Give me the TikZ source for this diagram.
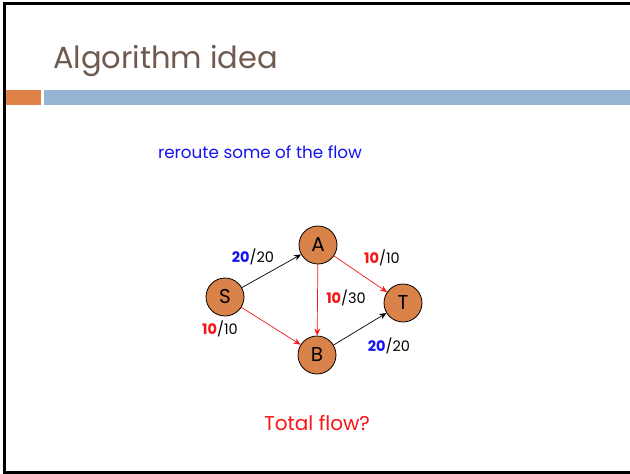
\documentclass[tikz,border=0pt]{standalone}
\usepackage{fontspec}
\setmainfont{Poppins}
\usetikzlibrary{arrows.meta}
\definecolor{titlebrown}{RGB}{112,90,80}
\definecolor{barorange}{RGB}{224,130,72}
\definecolor{barblue}{RGB}{149,180,211}
\definecolor{nodefill}{RGB}{217,130,74}
\definecolor{flowblue}{RGB}{20,20,240}
\definecolor{flowred}{RGB}{250,20,20}
\tikzset{
  vert/.style={circle,draw=black,line width=0.8pt,fill=nodefill,minimum size=38pt,inner sep=0pt,font=\fontsize{20}{20}\selectfont},
  flowedge/.style={-{Stealth[length=7pt,width=6pt]},line width=0.7pt},
  flab/.style={font=\fontsize{14.5}{15}\selectfont,inner sep=0pt},
}
\begin{document}
\begin{tikzpicture}[x=1pt,y=-1pt]
\useasboundingbox (0,0) rectangle (630,474);
\clip (0,0) rectangle (630,474);
\fill[white] (0,0) rectangle (630,474);
% frame
\draw[line width=3pt] (640,3.5) -- (4.5,3.5) -- (4.5,472.5) -- (640,472.5);
% title
\node[anchor=base west,inner sep=0pt,text=titlebrown,font=\fontsize{30.5}{32}\selectfont] (title) at (53,68) {Algorithm idea};
% bars
\fill[barorange] (6,90) rectangle (41,105);
\fill[barblue] (44,90) rectangle (630,105);
% subtitle
\node[inner sep=0pt,text=flowblue,font=\fontsize{16.8}{18}\selectfont] (sub) at (260,152) {reroute some of the flow};
% graph
\node[vert] (S) at (225,297) {S};
\node[vert] (A) at (318,245) {A};
\node[vert] (T) at (403,303) {T};
\node[vert] (B) at (317,355) {B};
\draw[flowedge] (S) -- (A);
\draw[flowedge,flowred] (A) -- (T);
\draw[flowedge,flowred] (A) -- (B);
\draw[flowedge,flowred] (S) -- (B);
\draw[flowedge] (B) -- (T);
\node[flab] (l1) at (253,257) {\textcolor{flowblue}{\textbf{20}}/20};
\node[flab] (l2) at (382,258) {\textcolor{flowred}{\textbf{10}}/10};
\node[flab] (l3) at (346,298) {\textcolor{flowred}{\textbf{10}}/30};
\node[flab] (l4) at (220,329) {\textcolor{flowred}{\textbf{10}}/10};
\node[flab] (l5) at (389,346) {\textcolor{flowblue}{\textbf{20}}/20};
% question
\node[inner sep=0pt,text=flowred,font=\fontsize{20}{22}\selectfont] (q) at (317,423) {Total flow?};
\end{tikzpicture}
\end{document}
